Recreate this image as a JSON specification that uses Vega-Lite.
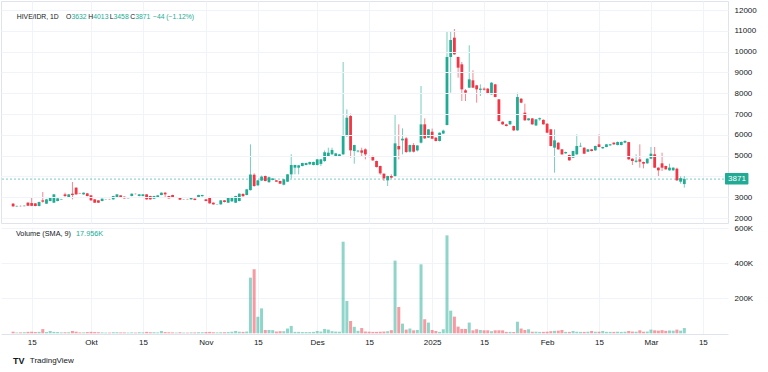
{
"$schema": "https://vega.github.io/schema/vega-lite/v6.json",
"padding": 0,
"background": "#ffffff",
"spacing": 0,
"config": {
 "view": {"stroke": "#e0e3eb"},
 "font": "Liberation Sans",
 "text": {"font": "Liberation Sans"},
 "axis": {"labelFont": "Liberation Sans", "labelFontSize": 8, "labelColor": "#131722", "gridColor": "#f0f3fa", "domain": false, "ticks": false, "title": null, "labelOverlap": false, "labelFlush": false, "labelBound": false}
},
"datasets": {"ohlc": [
{"d":"2024-09-10","o":2690,"h":2720,"l":2540,"c":2560,"v":9000},
{"d":"2024-09-11","o":2560,"h":2600,"l":2540,"c":2580,"v":5000},
{"d":"2024-09-12","o":2580,"h":2600,"l":2555,"c":2570,"v":5000},
{"d":"2024-09-13","o":2570,"h":2610,"l":2560,"c":2590,"v":6000},
{"d":"2024-09-14","o":2736,"h":2760,"l":2570,"c":2590,"v":8000},
{"d":"2024-09-15","o":2720,"h":2977,"l":2570,"c":2585,"v":9000},
{"d":"2024-09-16","o":2704,"h":2720,"l":2560,"c":2576,"v":7000},
{"d":"2024-09-17","o":2576,"h":2790,"l":2560,"c":2768,"v":8000},
{"d":"2024-09-18","o":2849,"h":3249,"l":2736,"c":2785,"v":24000},
{"d":"2024-09-19","o":2688,"h":2920,"l":2670,"c":2897,"v":7000},
{"d":"2024-09-20","o":2817,"h":3000,"l":2800,"c":2977,"v":13000},
{"d":"2024-09-21","o":2737,"h":3150,"l":2720,"c":3137,"v":8000},
{"d":"2024-09-22","o":2817,"h":2960,"l":2800,"c":2945,"v":7000},
{"d":"2024-09-23","o":2890,"h":2920,"l":2880,"c":2910,"v":5000},
{"d":"2024-09-24","o":3137,"h":3217,"l":2977,"c":3057,"v":6000},
{"d":"2024-09-25","o":2977,"h":3150,"l":2960,"c":3137,"v":6000},
{"d":"2024-09-26","o":3169,"h":3730,"l":2897,"c":3105,"v":13000},
{"d":"2024-09-27","o":3458,"h":3480,"l":3120,"c":3137,"v":9000},
{"d":"2024-09-28","o":3195,"h":3210,"l":3170,"c":3180,"v":5000},
{"d":"2024-09-29","o":3137,"h":3230,"l":3120,"c":3217,"v":5000},
{"d":"2024-09-30","o":3185,"h":3200,"l":3040,"c":3057,"v":7000},
{"d":"2024-10-01","o":3089,"h":3100,"l":2830,"c":2849,"v":8000},
{"d":"2024-10-02","o":2897,"h":2910,"l":2720,"c":2737,"v":7000},
{"d":"2024-10-03","o":2849,"h":2860,"l":2720,"c":2737,"v":6000},
{"d":"2024-10-04","o":2817,"h":2940,"l":2800,"c":2929,"v":5000},
{"d":"2024-10-05","o":2895,"h":2915,"l":2885,"c":2905,"v":4000},
{"d":"2024-10-06","o":2910,"h":2920,"l":2890,"c":2900,"v":4000},
{"d":"2024-10-07","o":2897,"h":3070,"l":2880,"c":3057,"v":6000},
{"d":"2024-10-08","o":2977,"h":3150,"l":2960,"c":3137,"v":6000},
{"d":"2024-10-09","o":3089,"h":3100,"l":2990,"c":3009,"v":5000},
{"d":"2024-10-10","o":3025,"h":3040,"l":2930,"c":2945,"v":5000},
{"d":"2024-10-11","o":2955,"h":2975,"l":2940,"c":2965,"v":4000},
{"d":"2024-10-12","o":3057,"h":3180,"l":3040,"c":3169,"v":5000},
{"d":"2024-10-13","o":3160,"h":3175,"l":3135,"c":3150,"v":4000},
{"d":"2024-10-14","o":3060,"h":3150,"l":3040,"c":3137,"v":6000},
{"d":"2024-10-15","o":3057,"h":3150,"l":3040,"c":3137,"v":5000},
{"d":"2024-10-16","o":3137,"h":3150,"l":2880,"c":2897,"v":8000},
{"d":"2024-10-17","o":3057,"h":3070,"l":2880,"c":2897,"v":6000},
{"d":"2024-10-18","o":2929,"h":3070,"l":2910,"c":3057,"v":6000},
{"d":"2024-10-19","o":3009,"h":3100,"l":2990,"c":3089,"v":5000},
{"d":"2024-10-20","o":3105,"h":3230,"l":3090,"c":3217,"v":13000},
{"d":"2024-10-21","o":3217,"h":3249,"l":2977,"c":3137,"v":7000},
{"d":"2024-10-22","o":3057,"h":3070,"l":2930,"c":2945,"v":6000},
{"d":"2024-10-23","o":3105,"h":3120,"l":2990,"c":3009,"v":5000},
{"d":"2024-10-24","o":2990,"h":3015,"l":2985,"c":3005,"v":4000},
{"d":"2024-10-25","o":2977,"h":2990,"l":2865,"c":2881,"v":6000},
{"d":"2024-10-26","o":2895,"h":2915,"l":2885,"c":2905,"v":4000},
{"d":"2024-10-27","o":2910,"h":2920,"l":2890,"c":2900,"v":4000},
{"d":"2024-10-28","o":2897,"h":2990,"l":2880,"c":2977,"v":5000},
{"d":"2024-10-29","o":2929,"h":2945,"l":2850,"c":2865,"v":5000},
{"d":"2024-10-30","o":2977,"h":3120,"l":2960,"c":3105,"v":6000},
{"d":"2024-10-31","o":3050,"h":3120,"l":3030,"c":3105,"v":6000},
{"d":"2024-11-01","o":2897,"h":2910,"l":2800,"c":2817,"v":7000},
{"d":"2024-11-02","o":3009,"h":3020,"l":2690,"c":2704,"v":8000},
{"d":"2024-11-03","o":2737,"h":2750,"l":2640,"c":2656,"v":6000},
{"d":"2024-11-04","o":2660,"h":2675,"l":2645,"c":2670,"v":5000},
{"d":"2024-11-05","o":2656,"h":2860,"l":2640,"c":2849,"v":6000},
{"d":"2024-11-06","o":2849,"h":2860,"l":2750,"c":2768,"v":6000},
{"d":"2024-11-07","o":2737,"h":2990,"l":2720,"c":2977,"v":7000},
{"d":"2024-11-08","o":2800,"h":3020,"l":2780,"c":3009,"v":9000},
{"d":"2024-11-09","o":2736,"h":3070,"l":2720,"c":3057,"v":13000},
{"d":"2024-11-10","o":2817,"h":3180,"l":2800,"c":3169,"v":9000},
{"d":"2024-11-11","o":3160,"h":3180,"l":3020,"c":3050,"v":8000},
{"d":"2024-11-12","o":3105,"h":3400,"l":3090,"c":3378,"v":10000},
{"d":"2024-11-13","o":3340,"h":5544,"l":3320,"c":4090,"v":317000},
{"d":"2024-11-14","o":4080,"h":4150,"l":3500,"c":3540,"v":365000},
{"d":"2024-11-15","o":3570,"h":3830,"l":3550,"c":3810,"v":95000},
{"d":"2024-11-16","o":3800,"h":4040,"l":3780,"c":3990,"v":142000},
{"d":"2024-11-17","o":4019,"h":4040,"l":3760,"c":3778,"v":19000},
{"d":"2024-11-18","o":3720,"h":3990,"l":3700,"c":3960,"v":19000},
{"d":"2024-11-19","o":3830,"h":3920,"l":3810,"c":3900,"v":18000},
{"d":"2024-11-20","o":3810,"h":3830,"l":3730,"c":3746,"v":10000},
{"d":"2024-11-21","o":3778,"h":3790,"l":3640,"c":3650,"v":12000},
{"d":"2024-11-22","o":3600,"h":3870,"l":3570,"c":3859,"v":12000},
{"d":"2024-11-23","o":3746,"h":4110,"l":3730,"c":4099,"v":27000},
{"d":"2024-11-24","o":4099,"h":5061,"l":3900,"c":4548,"v":42000},
{"d":"2024-11-25","o":4420,"h":4560,"l":4099,"c":4548,"v":8000},
{"d":"2024-11-26","o":4420,"h":4550,"l":4099,"c":4532,"v":8000},
{"d":"2024-11-27","o":4500,"h":4660,"l":4480,"c":4644,"v":7000},
{"d":"2024-11-28","o":4548,"h":4660,"l":4530,"c":4644,"v":7000},
{"d":"2024-11-29","o":4580,"h":4710,"l":4560,"c":4692,"v":7000},
{"d":"2024-11-30","o":4548,"h":4710,"l":4530,"c":4692,"v":8000},
{"d":"2024-12-01","o":4548,"h":4840,"l":4530,"c":4820,"v":13000},
{"d":"2024-12-02","o":4600,"h":4840,"l":4500,"c":4820,"v":10000},
{"d":"2024-12-03","o":4740,"h":5250,"l":4700,"c":5160,"v":25000},
{"d":"2024-12-04","o":4981,"h":5380,"l":4960,"c":5141,"v":21000},
{"d":"2024-12-05","o":5061,"h":5380,"l":5040,"c":5269,"v":12000},
{"d":"2024-12-06","o":4981,"h":5130,"l":4960,"c":5108,"v":10000},
{"d":"2024-12-07","o":4964,"h":5080,"l":4950,"c":5060,"v":9000},
{"d":"2024-12-08","o":5060,"h":9500,"l":5040,"c":5974,"v":522000},
{"d":"2024-12-09","o":5941,"h":7224,"l":5900,"c":6823,"v":184000},
{"d":"2024-12-10","o":6903,"h":7016,"l":4900,"c":5252,"v":70000},
{"d":"2024-12-11","o":5220,"h":5520,"l":4611,"c":5508,"v":37000},
{"d":"2024-12-12","o":5200,"h":5260,"l":5150,"c":5240,"v":14000},
{"d":"2024-12-13","o":5252,"h":5380,"l":4980,"c":5140,"v":30000},
{"d":"2024-12-14","o":5300,"h":5350,"l":4820,"c":5060,"v":10000},
{"d":"2024-12-15","o":4980,"h":5000,"l":4920,"c":4935,"v":9000},
{"d":"2024-12-16","o":4980,"h":5000,"l":4750,"c":4770,"v":8000},
{"d":"2024-12-17","o":4740,"h":4760,"l":4430,"c":4450,"v":8000},
{"d":"2024-12-18","o":4500,"h":4520,"l":4080,"c":4146,"v":9000},
{"d":"2024-12-19","o":4130,"h":4150,"l":3778,"c":3906,"v":10000},
{"d":"2024-12-20","o":3810,"h":4030,"l":3537,"c":4018,"v":12000},
{"d":"2024-12-21","o":4018,"h":4100,"l":3900,"c":3940,"v":18000},
{"d":"2024-12-22","o":4018,"h":6983,"l":3990,"c":5589,"v":414000},
{"d":"2024-12-23","o":5461,"h":6503,"l":4820,"c":5300,"v":150000},
{"d":"2024-12-24","o":5733,"h":6310,"l":5060,"c":5813,"v":55000},
{"d":"2024-12-25","o":5829,"h":5900,"l":5120,"c":5172,"v":21000},
{"d":"2024-12-26","o":5188,"h":5530,"l":5150,"c":5508,"v":27000},
{"d":"2024-12-27","o":5508,"h":5600,"l":5150,"c":5188,"v":17000},
{"d":"2024-12-28","o":5250,"h":5500,"l":5200,"c":5490,"v":19000},
{"d":"2024-12-29","o":5621,"h":8346,"l":5580,"c":6502,"v":393000},
{"d":"2024-12-30","o":6503,"h":6791,"l":5800,"c":5829,"v":80000},
{"d":"2024-12-31","o":5861,"h":6280,"l":5850,"c":6262,"v":61000},
{"d":"2025-01-01","o":6150,"h":6300,"l":5790,"c":5813,"v":19000},
{"d":"2025-01-02","o":5861,"h":5900,"l":5680,"c":5701,"v":13000},
{"d":"2025-01-03","o":5701,"h":6110,"l":5680,"c":6102,"v":8000},
{"d":"2025-01-04","o":6060,"h":6250,"l":6040,"c":6200,"v":23000},
{"d":"2025-01-05","o":6471,"h":10991,"l":6450,"c":9741,"v":558000},
{"d":"2025-01-06","o":9741,"h":10991,"l":8025,"c":10558,"v":129000},
{"d":"2025-01-07","o":10670,"h":11087,"l":9850,"c":9869,"v":95000},
{"d":"2025-01-08","o":9741,"h":9760,"l":8747,"c":9228,"v":38000},
{"d":"2025-01-09","o":9388,"h":9500,"l":7625,"c":8186,"v":25000},
{"d":"2025-01-10","o":8138,"h":8200,"l":7625,"c":8026,"v":25000},
{"d":"2025-01-11","o":8266,"h":10302,"l":8250,"c":8667,"v":61000},
{"d":"2025-01-12","o":8619,"h":9100,"l":8250,"c":8266,"v":17000},
{"d":"2025-01-13","o":8378,"h":8400,"l":7545,"c":8186,"v":23000},
{"d":"2025-01-14","o":8160,"h":8426,"l":7865,"c":8220,"v":19000},
{"d":"2025-01-15","o":8218,"h":8280,"l":8130,"c":8170,"v":17000},
{"d":"2025-01-16","o":8218,"h":8250,"l":7950,"c":7977,"v":17000},
{"d":"2025-01-17","o":7946,"h":8530,"l":7930,"c":8506,"v":12000},
{"d":"2025-01-18","o":8426,"h":8450,"l":7800,"c":7817,"v":17000},
{"d":"2025-01-19","o":7705,"h":7720,"l":6640,"c":6663,"v":17000},
{"d":"2025-01-20","o":6631,"h":6650,"l":6480,"c":6503,"v":17000},
{"d":"2025-01-21","o":6500,"h":6530,"l":6400,"c":6422,"v":8000},
{"d":"2025-01-22","o":6503,"h":6680,"l":6480,"c":6663,"v":8000},
{"d":"2025-01-23","o":6422,"h":6440,"l":6180,"c":6214,"v":8000},
{"d":"2025-01-24","o":6214,"h":8026,"l":6190,"c":7817,"v":66000},
{"d":"2025-01-25","o":7737,"h":7760,"l":7520,"c":7545,"v":27000},
{"d":"2025-01-26","o":7064,"h":7497,"l":6680,"c":6695,"v":19000},
{"d":"2025-01-27","o":6700,"h":6800,"l":6680,"c":6790,"v":23000},
{"d":"2025-01-28","o":6790,"h":6800,"l":6480,"c":6503,"v":9000},
{"d":"2025-01-29","o":6450,"h":6760,"l":6420,"c":6744,"v":9000},
{"d":"2025-01-30","o":6744,"h":6830,"l":6680,"c":6800,"v":8000},
{"d":"2025-01-31","o":6720,"h":6740,"l":6490,"c":6503,"v":8000},
{"d":"2025-02-01","o":6535,"h":6550,"l":6080,"c":6102,"v":9000},
{"d":"2025-02-02","o":6263,"h":6280,"l":5440,"c":5461,"v":12000},
{"d":"2025-02-03","o":5381,"h":6263,"l":4179,"c":5734,"v":14000},
{"d":"2025-02-04","o":5621,"h":5640,"l":5280,"c":5301,"v":15000},
{"d":"2025-02-05","o":5301,"h":5320,"l":5040,"c":5060,"v":19000},
{"d":"2025-02-06","o":5109,"h":5190,"l":5090,"c":5173,"v":8000},
{"d":"2025-02-07","o":5028,"h":5050,"l":4750,"c":4772,"v":8000},
{"d":"2025-02-08","o":4900,"h":5240,"l":4880,"c":5221,"v":13000},
{"d":"2025-02-09","o":5060,"h":6022,"l":5040,"c":5461,"v":9000},
{"d":"2025-02-10","o":5440,"h":5620,"l":5420,"c":5470,"v":8000},
{"d":"2025-02-11","o":5381,"h":5400,"l":5070,"c":5093,"v":8000},
{"d":"2025-02-12","o":5189,"h":5320,"l":5170,"c":5301,"v":9000},
{"d":"2025-02-13","o":5301,"h":5320,"l":5200,"c":5221,"v":13000},
{"d":"2025-02-14","o":5254,"h":5480,"l":5230,"c":5462,"v":9000},
{"d":"2025-02-15","o":5542,"h":6023,"l":5400,"c":5414,"v":9000},
{"d":"2025-02-16","o":5350,"h":5430,"l":5320,"c":5414,"v":13000},
{"d":"2025-02-17","o":5414,"h":5560,"l":5400,"c":5542,"v":8000},
{"d":"2025-02-18","o":5494,"h":5560,"l":5470,"c":5542,"v":8000},
{"d":"2025-02-19","o":5622,"h":5640,"l":5520,"c":5542,"v":8000},
{"d":"2025-02-20","o":5510,"h":5680,"l":5490,"c":5653,"v":9000},
{"d":"2025-02-21","o":5510,"h":5680,"l":5490,"c":5653,"v":8000},
{"d":"2025-02-22","o":5622,"h":5740,"l":5590,"c":5702,"v":9000},
{"d":"2025-02-23","o":5650,"h":5660,"l":4800,"c":4821,"v":13000},
{"d":"2025-02-24","o":4853,"h":4870,"l":4548,"c":4741,"v":10000},
{"d":"2025-02-25","o":4700,"h":5061,"l":4650,"c":4760,"v":9000},
{"d":"2025-02-26","o":4821,"h":5542,"l":4420,"c":4709,"v":17000},
{"d":"2025-02-27","o":4693,"h":4710,"l":4388,"c":4613,"v":9000},
{"d":"2025-02-28","o":4629,"h":4870,"l":4610,"c":4853,"v":10000},
{"d":"2025-03-01","o":4853,"h":5414,"l":4830,"c":5093,"v":21000},
{"d":"2025-03-02","o":5061,"h":5414,"l":4400,"c":4420,"v":17000},
{"d":"2025-03-03","o":4420,"h":4440,"l":4020,"c":4292,"v":15000},
{"d":"2025-03-04","o":4629,"h":5141,"l":4260,"c":4420,"v":18000},
{"d":"2025-03-05","o":4500,"h":4520,"l":4330,"c":4340,"v":14000},
{"d":"2025-03-06","o":4292,"h":4612,"l":4270,"c":4420,"v":16000},
{"d":"2025-03-07","o":4292,"h":4440,"l":4270,"c":4420,"v":15000},
{"d":"2025-03-08","o":4372,"h":4420,"l":3780,"c":3811,"v":21000},
{"d":"2025-03-09","o":3746,"h":4000,"l":3650,"c":3915,"v":15000},
{"d":"2025-03-10","o":3632,"h":4013,"l":3458,"c":3871,"v":30000}
]},
"vconcat": [
{
 "width": 727, "height": 222,
 "layer": [
  {"data": {"values": [{}]}, "mark": {"type": "rule", "color": "#f0f3fa"}, "encoding": {"y": {"datum": 4000, "type": "quantitative"}}},
  {"data": {"values": [{}]}, "mark": {"type": "rule", "color": "#22ab94", "strokeDash": [2, 2], "opacity": 0.6}, "encoding": {"y": {"datum": 3871, "type": "quantitative"}}},
  {"data": {"name": "ohlc"}, "mark": {"type": "rule", "strokeWidth": 1, "opacity": 0.6},
   "encoding": {
    "x": {"field": "d", "type": "temporal", "scale": {"type": "utc", "domain": [{"year": 2024, "month": 9, "date": 8, "hours": 2, "utc": true}, {"year": 2025, "month": 3, "date": 20, "hours": 10, "minutes": 20, "utc": true}]},
      "axis": {"values": [{"year":2024,"month":9,"date":15,"utc":true},{"year":2024,"month":10,"date":1,"utc":true},{"year":2024,"month":10,"date":15,"utc":true},{"year":2024,"month":11,"date":1,"utc":true},{"year":2024,"month":11,"date":15,"utc":true},{"year":2024,"month":12,"date":1,"utc":true},{"year":2024,"month":12,"date":15,"utc":true},{"year":2025,"month":1,"date":1,"utc":true},{"year":2025,"month":1,"date":15,"utc":true},{"year":2025,"month":2,"date":1,"utc":true},{"year":2025,"month":2,"date":15,"utc":true},{"year":2025,"month":3,"date":1,"utc":true},{"year":2025,"month":3,"date":15,"utc":true}], "tickCount": 13, "labels": false, "grid": true, "labelPadding": 0, "minExtent": 0, "maxExtent": 0}},
    "y": {"field": "l", "type": "quantitative", "scale": {"domain": [1760, 12433], "nice": false, "zero": false},
      "axis": {"orient": "right", "values": [1990, 3000, 5000, 6000, 7000, 8000, 9000, 10000, 11000, 12000], "tickCount": 10, "labelExpr": "datum.value < 2500 ? '2000' : format(datum.value, 'd')", "grid": true, "labelPadding": 6, "zindex": 1}},
    "y2": {"field": "h"},
    "color": {"condition": {"test": "datum.c >= datum.o", "value": "#22ab94"}, "value": "#f23645"}
   }},
  {"data": {"name": "ohlc"}, "mark": {"type": "bar", "size": 2.8},
   "encoding": {
    "x": {"field": "d", "type": "temporal"},
    "y": {"field": "o", "type": "quantitative"},
    "y2": {"field": "c"},
    "color": {"condition": {"test": "datum.c >= datum.o", "value": "#22ab94"}, "value": "#f23645"}
   }},
  {"data": {"values": [{}]}, "mark": {"type": "rect", "color": "#22ab94", "cornerRadius": 1},
   "encoding": {"x": {"datum": {"year": 2025, "month": 3, "date": 20, "hours": 23, "utc": true}, "type": "temporal"}, "x2": {"datum": {"year": 2025, "month": 3, "date": 27, "hours": 7, "utc": true}}, "y": {"datum": 4164, "type": "quantitative"}, "y2": {"datum": 3611}}},
  {"data": {"values": [{}]}, "mark": {"type": "text", "color": "#ffffff", "fontSize": 8, "align": "center", "baseline": "middle", "text": "3871"},
   "encoding": {"x": {"datum": {"year": 2025, "month": 3, "date": 24, "hours": 5, "utc": true}, "type": "temporal"}, "y": {"datum": 3871, "type": "quantitative"}}},
  {"data": {"values": [{}]}, "mark": {"type": "text", "color": "#131722", "fontSize": 6.8, "align": "left", "baseline": "middle", "text": "HIVE/IDR, 1D"},
   "encoding": {"x": {"datum": {"year": 2024, "month": 9, "date": 11, "utc": true}, "type": "temporal"}, "y": {"datum": 11664, "type": "quantitative"}}},
  {"data": {"values": [{}]}, "mark": {"type": "text", "color": "#131722", "fontSize": 6.8, "align": "left", "baseline": "middle", "text": "O"},
   "encoding": {"x": {"datum": {"year": 2024, "month": 9, "date": 24, "hours": 7, "utc": true}, "type": "temporal"}, "y": {"datum": 11664, "type": "quantitative"}}},
  {"data": {"values": [{}]}, "mark": {"type": "text", "color": "#22ab94", "fontSize": 6.8, "align": "left", "baseline": "middle", "text": "3632"},
   "encoding": {"x": {"datum": {"year": 2024, "month": 9, "date": 25, "hours": 18, "utc": true}, "type": "temporal"}, "y": {"datum": 11664, "type": "quantitative"}}},
  {"data": {"values": [{}]}, "mark": {"type": "text", "color": "#131722", "fontSize": 6.8, "align": "left", "baseline": "middle", "text": "H"},
   "encoding": {"x": {"datum": {"year": 2024, "month": 9, "date": 30, "hours": 7, "utc": true}, "type": "temporal"}, "y": {"datum": 11664, "type": "quantitative"}}},
  {"data": {"values": [{}]}, "mark": {"type": "text", "color": "#22ab94", "fontSize": 6.8, "align": "left", "baseline": "middle", "text": "4013"},
   "encoding": {"x": {"datum": {"year": 2024, "month": 10, "date": 1, "hours": 15, "utc": true}, "type": "temporal"}, "y": {"datum": 11664, "type": "quantitative"}}},
  {"data": {"values": [{}]}, "mark": {"type": "text", "color": "#131722", "fontSize": 6.8, "align": "left", "baseline": "middle", "text": "L"},
   "encoding": {"x": {"datum": {"year": 2024, "month": 10, "date": 6, "hours": 1, "utc": true}, "type": "temporal"}, "y": {"datum": 11664, "type": "quantitative"}}},
  {"data": {"values": [{}]}, "mark": {"type": "text", "color": "#22ab94", "fontSize": 6.8, "align": "left", "baseline": "middle", "text": "3458"},
   "encoding": {"x": {"datum": {"year": 2024, "month": 10, "date": 7, "hours": 2, "utc": true}, "type": "temporal"}, "y": {"datum": 11664, "type": "quantitative"}}},
  {"data": {"values": [{}]}, "mark": {"type": "text", "color": "#131722", "fontSize": 6.8, "align": "left", "baseline": "middle", "text": "C"},
   "encoding": {"x": {"datum": {"year": 2024, "month": 10, "date": 11, "hours": 14, "utc": true}, "type": "temporal"}, "y": {"datum": 11664, "type": "quantitative"}}},
  {"data": {"values": [{}]}, "mark": {"type": "text", "color": "#22ab94", "fontSize": 6.8, "align": "left", "baseline": "middle", "text": "3871"},
   "encoding": {"x": {"datum": {"year": 2024, "month": 10, "date": 12, "hours": 22, "utc": true}, "type": "temporal"}, "y": {"datum": 11664, "type": "quantitative"}}},
  {"data": {"values": [{}]}, "mark": {"type": "text", "color": "#22ab94", "fontSize": 6.8, "align": "left", "baseline": "middle", "text": "−44 (−1.12%)"},
   "encoding": {"x": {"datum": {"year": 2024, "month": 10, "date": 17, "hours": 17, "utc": true}, "type": "temporal"}, "y": {"datum": 11664, "type": "quantitative"}}}
 ]
},
{
 "width": 727, "height": 107,
 "view": {"stroke": null, "fill": null},
 "layer": [
  {"data": {"name": "ohlc"}, "mark": {"type": "bar", "size": 3, "opacity": 0.5},
   "encoding": {
    "x": {"field": "d", "type": "temporal", "scale": {"type": "utc", "domain": [{"year": 2024, "month": 9, "date": 8, "hours": 2, "utc": true}, {"year": 2025, "month": 3, "date": 20, "hours": 10, "minutes": 20, "utc": true}]},
      "axis": {"values": [{"year":2024,"month":9,"date":15,"utc":true},{"year":2024,"month":10,"date":1,"utc":true},{"year":2024,"month":10,"date":15,"utc":true},{"year":2024,"month":11,"date":1,"utc":true},{"year":2024,"month":11,"date":15,"utc":true},{"year":2024,"month":12,"date":1,"utc":true},{"year":2024,"month":12,"date":15,"utc":true},{"year":2025,"month":1,"date":1,"utc":true},{"year":2025,"month":1,"date":15,"utc":true},{"year":2025,"month":2,"date":1,"utc":true},{"year":2025,"month":2,"date":15,"utc":true},{"year":2025,"month":3,"date":1,"utc":true},{"year":2025,"month":3,"date":15,"utc":true}],
        "tickCount": 13, "grid": true, "labelPadding": 4, "domain": true, "domainColor": "#e0e3eb",
        "labelExpr": "utcdate(datum.value) == 15 ? '15' : (utcmonth(datum.value) == 0 ? utcFormat(datum.value, '%Y') : ['Jan','Feb','Mar','Apr','Mei','Jun','Jul','Agu','Sep','Okt','Nov','Des'][utcmonth(datum.value)])"}},
    "y": {"field": "v", "type": "quantitative", "scale": {"domain": [-4000, 605700], "nice": false, "zero": false},
      "axis": {"orient": "right", "values": [200000, 400000, 600000], "tickCount": 3, "grid": true, "labelPadding": 6, "labelExpr": "(datum.value / 1000) + 'K'"}},
    "color": {"condition": {"test": "datum.c >= datum.o", "value": "#22ab94"}, "value": "#f23645"}
   }},
  {"data": {"values": [{}]}, "mark": {"type": "text", "color": "#131722", "fontSize": 7.3, "align": "left", "baseline": "middle", "text": "Volume (SMA, 9)"},
   "encoding": {"x": {"datum": {"year": 2024, "month": 9, "date": 10, "hours": 18, "utc": true}, "type": "temporal"}, "y": {"datum": 566000, "type": "quantitative"}}},
  {"data": {"values": [{}]}, "mark": {"type": "text", "color": "#22ab94", "fontSize": 7.3, "align": "left", "baseline": "middle", "text": "17.956K"},
   "encoding": {"x": {"datum": {"year": 2024, "month": 9, "date": 26, "hours": 23, "utc": true}, "type": "temporal"}, "y": {"datum": 566000, "type": "quantitative"}}},
  {"data": {"values": [{}]}, "mark": {"type": "text", "color": "#131722", "fontSize": 9, "fontWeight": "bold", "align": "left", "baseline": "middle", "text": "TV"},
   "encoding": {"x": {"datum": {"year": 2024, "month": 9, "date": 10, "hours": 0, "utc": true}, "type": "temporal"}, "y": {"datum": -160000, "type": "quantitative"}}},
  {"data": {"values": [{}]}, "mark": {"type": "text", "color": "#131722", "fontSize": 8, "align": "left", "baseline": "middle", "text": "TradingView"},
   "encoding": {"x": {"datum": {"year": 2024, "month": 9, "date": 14, "hours": 12, "utc": true}, "type": "temporal"}, "y": {"datum": -160000, "type": "quantitative"}}}
 ]
}
]
}
